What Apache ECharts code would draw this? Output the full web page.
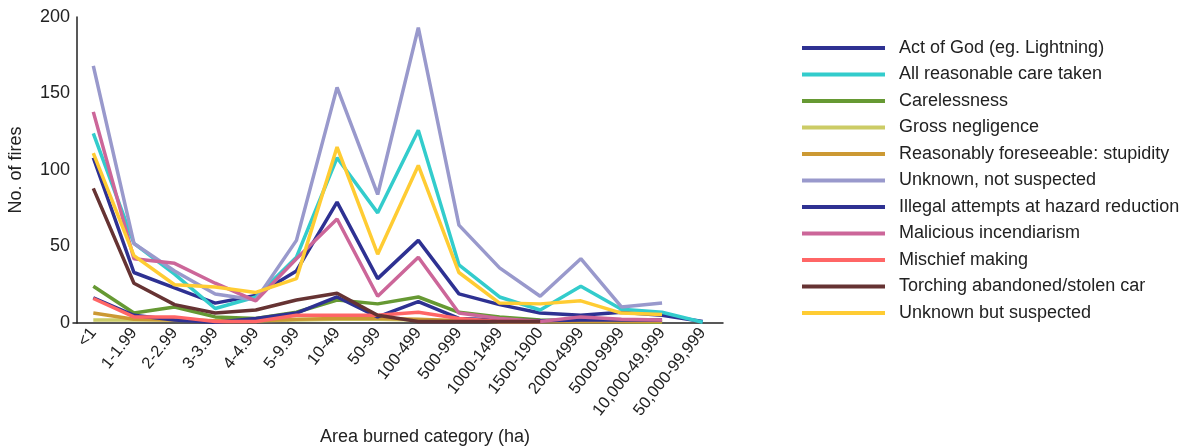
<!DOCTYPE html>
<html>
<head>
<meta charset="utf-8">
<script src="https://cdn.jsdelivr.net/npm/echarts@6/dist/echarts.min.js"></script>
<style>
  html, body { margin: 0; padding: 0; background: #fff; }
  #chart { width: 1198px; height: 448px; }
</style>
</head>
<body>
<div id="chart"></div>
<script>
// categories of burned area
const categories = ['<1', '1-1.99', '2-2.99', '3-3.99', '4-4.99', '5-9.99', '10-49', '50-99', '100-499',
  '500-999', '1000-1499', '1500-1900', '2000-4999', '5000-9999', '10,000-49,999', '50,000-99,999']

// number of fires per cause
const actOfGod = [108, 33, 23, 13, 18, 34, 79, 29, 54, 19, 12, 6.5, 5, 7, 5, 1]
const careTaken = [124, 52, 32, 9.5, 17, 43, 108, 72, 126, 38, 17, 8.5, 24, 9, 7, 0.5]
const carelessness = [24, 6.5, 10.5, 4, 3, 7, 15, 12.5, 17, 7, 4, 2, 1.5, 1, 0.5, null]
const grossNegligence = [2, 2, 2, 1.5, 1.5, 2, 2.5, 2.5, 2, 1.5, 1, 1, 1, 1, 1, null]
const foreseeable = [6.5, 2.5, 2, 1.5, 1.5, 2.5, 3, 3, 2.5, 1.5, 1, 1, 1, 1, 1, null]
const unknownNot = [168, 52, 34, 19, 15, 54, 154, 84, 193, 64, 36, 17.5, 42, 10.5, 13, null]
const illegal = [16.5, 5, 2, 0.5, 3, 6.5, 17, 4, 14, 3, 2, 1.5, 2, 2, 2, null]
const malicious = [138, 42, 39, 26, 14.5, 42, 68, 17.5, 43, 6.5, 3, 1, 4, 2.5, 2, null]
const mischief = [16, 4, 4, 1, 1, 5, 5, 5, 7, 3, 1, 1, null, null, null, null]
const torching = [88, 26, 12, 6.5, 8.5, 15, 19.5, 5, 1, 1, 1, 1, null, null, null, null]
const unknownSuspected = [111, 44, 25, 23.5, 20, 29, 115, 45, 103, 33, 13, 12.5, 14.5, 6.5, 5.5, null]

const yTicks = [0, 50, 100, 150, 200]

const seriesList = [
  { name: 'Act of God (eg. Lightning)', data: actOfGod, color: '#2e3192' },
  { name: 'All reasonable care taken', data: careTaken, color: '#33cccc' },
  { name: 'Carelessness', data: carelessness, color: '#669933' },
  { name: 'Gross negligence', data: grossNegligence, color: '#cccc66' },
  { name: 'Reasonably foreseeable: stupidity', data: foreseeable, color: '#cc9933' },
  { name: 'Unknown, not suspected', data: unknownNot, color: '#9999cc' },
  { name: 'Illegal attempts at hazard reduction', data: illegal, color: '#2e3192' },
  { name: 'Malicious incendiarism', data: malicious, color: '#cc6699' },
  { name: 'Mischief making', data: mischief, color: '#ff6666' },
  { name: 'Torching abandoned/stolen car', data: torching, color: '#663333' },
  { name: 'Unknown but suspected', data: unknownSuspected, color: '#ffcc33' }
]

const font = '"Liberation Sans", Arial, Helvetica, sans-serif'

const chart = echarts.init(document.getElementById('chart'), null, { renderer: 'canvas' })

chart.setOption({
  animation: false,
  backgroundColor: '#fff',
  textStyle: { fontFamily: font },
  grid: { left: 73, right: 475, top: 17, bottom: 125, containLabel: false, outerBoundsMode: 'none' },
  legend: {
    orient: 'vertical',
    left: 797,
    top: 34,
    icon: 'rect',
    itemWidth: 83,
    itemHeight: 4,
    itemGap: 8.5,
    textStyle: { fontSize: 18, color: '#222', fontFamily: font, padding: [0, 0, 0, 9] },
    data: seriesList.map(s => s.name)
  },
  xAxis: {
    type: 'category',
    data: categories,
    boundaryGap: true,
    name: 'Area burned category (ha)',
    nameLocation: 'middle',
    nameGap: 105,
    nameTextStyle: { fontSize: 18, color: '#222', fontFamily: font, padding: [0, 0, 0, 54] },
    axisLine: { lineStyle: { color: '#222', width: 1.5 } },
    axisTick: { show: false },
    axisLabel: { interval: 0, rotate: 52, fontSize: 16.5, color: '#222', margin: 7, fontFamily: font },
    splitLine: { show: false }
  },
  yAxis: {
    type: 'value',
    min: yTicks[0],
    max: yTicks[yTicks.length - 1],
    interval: 50,
    offset: -4,
    name: 'No. of fires',
    nameLocation: 'middle',
    nameGap: 52,
    nameTextStyle: { fontSize: 18, color: '#222', fontFamily: font },
    axisLine: { show: true, lineStyle: { color: '#222', width: 1.5 } },
    axisTick: { show: false },
    axisLabel: { fontSize: 18, color: '#222', margin: 7, fontFamily: font },
    splitLine: { show: false }
  },
  series: seriesList.map(s => ({
    name: s.name,
    type: 'line',
    data: s.data,
    showSymbol: false,
    symbol: 'none',
    connectNulls: false,
    color: s.color,
    lineStyle: { width: 3.5, color: s.color },
    emphasis: { disabled: true }
  }))
})
</script>
</body>
</html>
